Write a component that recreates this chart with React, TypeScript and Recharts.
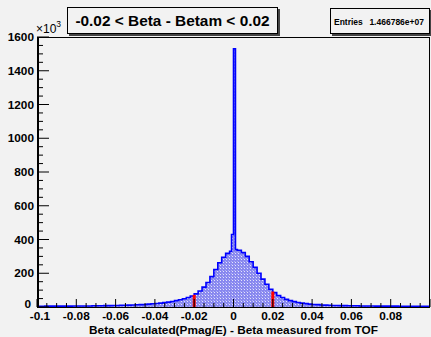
import React from "react";
import { AreaChart, Area, XAxis, YAxis, ReferenceLine } from "recharts";

const FONT = '"Liberation Sans", Arial, Helvetica, sans-serif';

// entries (x10^3) per 0.002 bin, from -0.1 up to -0.002
const leftCounts = [
  4, 4, 5, 5, 5, 5, 5, 5, 5, 6,
  6, 6, 6, 6, 7, 7, 7, 8, 8, 9,
  9, 10, 10, 11, 12, 13, 14, 15, 17, 19,
  21, 23, 26, 29, 33, 38, 43, 49, 56, 65,
  78, 95, 118, 145, 180, 222, 262, 295, 318,
];
// 0.001 bins around zero, -0.002 .. 0.002 (the spike)
const coreCounts = [330, 430, 1530, 340];
// 0.002 bins from 0.002 up to 0.1
const rightCounts = [
  336, 322, 300, 268, 235, 200, 165, 135, 105, 85,
  68, 56, 45, 38, 32, 27, 23, 20, 17, 15,
  14, 12, 11, 10, 9, 9, 8, 8, 7, 7,
  7, 6, 6, 6, 6, 5, 5, 5, 5, 5,
  5, 4, 4, 4, 4, 4, 4, 4, 4,
];

// red cut markers at |Beta - Betam| = 0.02
const cutX = [-0.02, 0.02];
const cutHeights = [72, 92];

const xMajor = [-0.1, -0.08, -0.06, -0.04, -0.02, 0, 0.02, 0.04, 0.06, 0.08, 0.1];
const xLabels = ["-0.1", "-0.08", "-0.06", "-0.04", "-0.02", "0", "0.02", "0.04", "0.06", "0.08", ""];
const yMajor = [0, 200, 400, 600, 800, 1000, 1200, 1400, 1600];
const yLabels = ["0", "200", "400", "600", "800", "1000", "1200", "1400", "1600"];

const r4 = (v: number) => Math.round(v * 10000) / 10000;

const data: { x: number; y: number }[] = [];
leftCounts.forEach((c, i) => data.push({ x: r4(-0.1 + i * 0.002), y: c }));
coreCounts.forEach((c, i) => data.push({ x: r4(-0.002 + i * 0.001), y: c }));
rightCounts.forEach((c, i) => data.push({ x: r4(0.002 + i * 0.002), y: c }));
data.push({ x: 0.1, y: rightCounts[rightCounts.length - 1] });

// major + 3 minor ticks per division
const xTicks: number[] = [];
xMajor.forEach((m, i) => {
  xTicks.push(m);
  if (i < xMajor.length - 1) for (let k = 1; k < 4; k++) xTicks.push(r4(m + k * 0.005));
});
const yTicks: number[] = [];
yMajor.forEach((m, i) => {
  yTicks.push(m);
  if (i < yMajor.length - 1) for (let k = 1; k < 4; k++) yTicks.push(m + k * 50);
});

const labelStyle = { fontFamily: FONT, fontSize: 11.8, fontWeight: 700, fill: "#000" };

const XTick = (props: any) => {
  const { x, y, payload } = props;
  const idx = xMajor.findIndex((m) => Math.abs(m - payload.value) < 1e-9);
  const major = idx >= 0;
  return (
    <g>
      <line x1={x} y1={y} x2={x} y2={y - (major ? 8 : 4)} stroke="#000" strokeWidth={1} />
      {major && xLabels[idx] && (
        <text x={idx === 0 ? x + 3 : x} y={y + 13} textAnchor="middle" {...labelStyle}>
          {xLabels[idx]}
        </text>
      )}
    </g>
  );
};

const YTick = (props: any) => {
  const { x, y, payload } = props;
  const idx = yMajor.indexOf(payload.value);
  const major = idx >= 0;
  return (
    <g>
      <line x1={x} y1={y} x2={x + (major ? 12 : 6)} y2={y} stroke="#000" strokeWidth={1} />
      {major && (
        <text x={idx === 0 ? x - 6 : x - 3} y={idx === 0 ? y + 1 : y + 4} textAnchor="end" {...labelStyle}>
          {yLabels[idx]}
        </text>
      )}
    </g>
  );
};

export default function App() {
  return (
    <div
      style={{
        position: "absolute",
        left: 0,
        top: 0,
        width: 431,
        height: 337,
        background: "#f2f2f2",
        fontFamily: FONT,
        overflow: "hidden",
      }}
    >
      <AreaChart width={431} height={337} data={data} margin={{ top: 37, right: 1, left: 0, bottom: 0 }}>
        <defs>
          <pattern id="hatch" width="3" height="3" patternUnits="userSpaceOnUse">
            <rect width="3" height="3" fill="#8888ef" />
            <rect x="1" y="1" width="1" height="1" fill="#e4e4fb" />
            <rect x="0" y="0" width="1" height="1" fill="#b0b0f5" />
          </pattern>
        </defs>
        <XAxis
          dataKey="x"
          type="number"
          domain={[-0.1, 0.1]}
          ticks={xTicks}
          interval={0}
          height={30}
          tickSize={0}
          tickMargin={0}
          axisLine={false}
          tick={<XTick />}
          allowDataOverflow
        />
        <YAxis
          type="number"
          domain={[0, 1600]}
          ticks={yTicks}
          interval={0}
          width={37}
          tickSize={0}
          tickMargin={0}
          axisLine={false}
          tick={<YTick />}
          allowDataOverflow
        />
        <Area
          type="stepAfter"
          dataKey="y"
          stroke="#0000ff"
          strokeWidth={1.6}
          fill="url(#hatch)"
          fillOpacity={1}
          dot={false}
          activeDot={false}
          isAnimationActive={false}
        />
        {cutX.map((cx, i) => (
          <ReferenceLine
            key={cx}
            segment={[
              { x: cx, y: 0 },
              { x: cx, y: cutHeights[i] },
            ]}
            stroke="#ff0000"
            strokeWidth={3}
          />
        ))}
      </AreaChart>

      {/* plot frame */}
      <div
        style={{
          position: "absolute",
          left: 37,
          top: 37,
          width: 393,
          height: 271,
          border: "1px solid #000",
          borderLeftWidth: 2,
          boxSizing: "border-box",
          pointerEvents: "none",
        }}
      />

      {/* x10^3 exponent */}
      <div style={{ position: "absolute", left: 36, top: 22, fontSize: 12, color: "#000" }}>
        ×10<sup style={{ fontSize: 8.5, verticalAlign: "top", position: "relative", top: -3 }}>3</sup>
      </div>

      {/* title box */}
      <div
        style={{
          position: "absolute",
          left: 67,
          top: 7,
          width: 211,
          height: 27,
          border: "1px solid #000",
          boxShadow: "2px 2px 0 #444",
          background: "#f2f2f2",
          boxSizing: "border-box",
          display: "flex",
          alignItems: "center",
          justifyContent: "center",
          fontSize: 15.4,
          fontWeight: 700,
          whiteSpace: "nowrap",
        }}
      >
        -0.02 &lt; Beta - Betam &lt; 0.02
      </div>

      {/* stats box */}
      <div
        style={{
          position: "absolute",
          left: 330,
          top: 8,
          width: 100,
          height: 26,
          border: "1px solid #000",
          boxShadow: "2px 2px 0 #444",
          background: "#f2f2f2",
          boxSizing: "border-box",
          fontSize: 8.5,
          fontWeight: 700,
          whiteSpace: "nowrap",
        }}
      >
        <span style={{ position: "absolute", left: 3, top: 8 }}>Entries</span>
        <span style={{ position: "absolute", right: 5, top: 8 }}>1.466786e+07</span>
      </div>

      {/* x axis title */}
      <div
        style={{
          position: "absolute",
          left: 37,
          width: 393,
          top: 323,
          textAlign: "center",
          fontSize: 11.8,
          fontWeight: 700,
          whiteSpace: "nowrap",
        }}
      >
        Beta calculated(Pmag/E) - Beta measured from TOF
      </div>
    </div>
  );
}
